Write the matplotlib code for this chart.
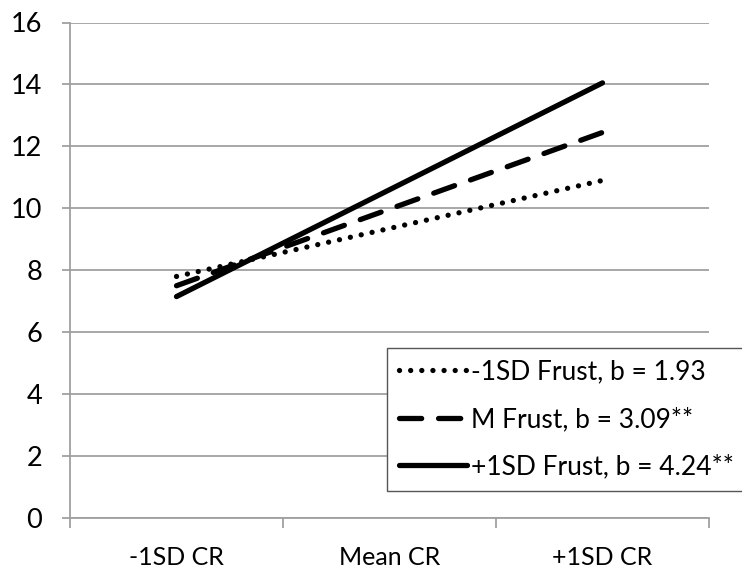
import numpy as np
import matplotlib
matplotlib.use('Agg')
import matplotlib.pyplot as plt

# chart data
categories = ['-1SD CR', 'Mean CR', '+1SD CR']
low_frust = [7.8, 10.9]      # -1SD Frust
mean_frust = [7.5, 12.45]    # M Frust
high_frust = [7.15, 14.05]   # +1SD Frust
labels = ['-1SD Frust, b = 1.93', 'M Frust, b = 3.09**', '+1SD Frust, b = 4.24**']
yticks = [0, 2, 4, 6, 8, 10, 12, 14, 16]

plt.rcParams['font.family'] = ['Lato', 'DejaVu Sans']

fig = plt.figure(figsize=(7.42, 5.76), dpi=100)
ax = fig.add_axes([70/742, 58/576, 639/742, 495.5/576])

x_ends = [0, 2]  # lines run from -1SD CR to +1SD CR
ax.plot(x_ends, low_frust, color='black', lw=3.8, linestyle=(0, (0.01, 2.1)),
        dash_capstyle='round', solid_capstyle='round', label=labels[0])
ax.plot(x_ends, mean_frust, color='black', lw=3.8, linestyle=(0, (4.2, 3.2)),
        dash_capstyle='round', label=labels[1])
ax.plot(x_ends, high_frust, color='black', lw=3.8, solid_capstyle='round', label=labels[2])

ax.set_xlim(-0.5, 2.5)
ax.set_ylim(0, 16)
ax.set_yticks(yticks)
ax.set_xticks(range(len(categories)))
ax.set_xticklabels(categories)
ax.set_xticks([-0.5, 0.5, 1.5, 2.5], minor=True)

ax.yaxis.grid(True, color='#a0a0a0', lw=1.3)
ax.set_axisbelow(True)
for s in ['top', 'right']:
    ax.spines[s].set_visible(False)
for s in ['left', 'bottom']:
    ax.spines[s].set_color('#a0a0a0')
    ax.spines[s].set_linewidth(1.3)

ax.tick_params(axis='y', length=6, color='#a0a0a0', width=1.3, labelsize=19.5, pad=14)
ax.tick_params(axis='x', which='major', length=0, labelsize=18, pad=20)
ax.tick_params(axis='x', which='minor', length=7, color='#a0a0a0', width=1.3)

leg = fig.legend(loc='center', bbox_to_anchor=(387/742, 87/576, 356/742, 139/576),
                 mode='expand', fontsize=19, frameon=True, fancybox=False,
                 edgecolor='#555555', framealpha=1, handlelength=2.6,
                 handletextpad=0.15, labelspacing=0.85, borderpad=0.45,
                 borderaxespad=0)
leg.get_frame().set_linewidth(1.0)

fig.savefig('out.png', dpi=100)
